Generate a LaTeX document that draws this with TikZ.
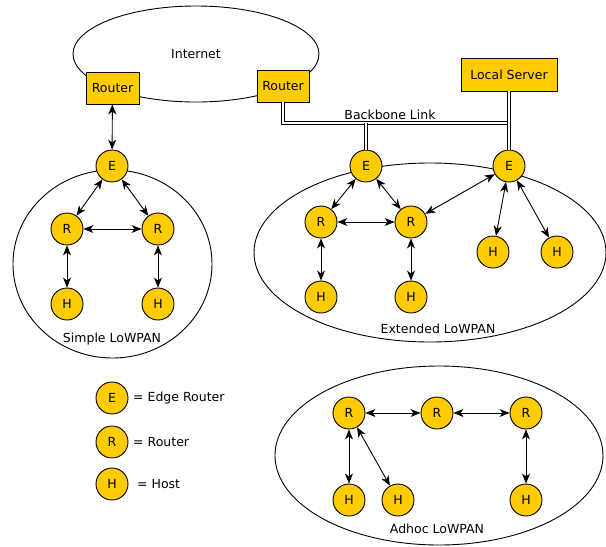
\documentclass[tikz,border=0pt]{standalone}
\usepackage{fontspec}
\setmainfont{DejaVu Sans}
\usetikzlibrary{arrows.meta}
\definecolor{nodeyellow}{HTML}{FFCC00}
\tikzset{
  dev/.style={circle,draw=black,fill=nodeyellow,minimum size=32pt,inner sep=0pt,line width=0.9pt,font=\fontsize{12.5}{14}\selectfont},
  boxnode/.style={rectangle,draw=black,fill=nodeyellow,minimum height=32pt,inner sep=0pt,line width=0.9pt,font=\fontsize{12.5}{14}\selectfont},
  cloud/.style={draw=black,line width=0.9pt},
  link/.style={{Stealth[length=10pt,width=8pt,inset=3pt]}-{Stealth[length=10pt,width=8pt,inset=3pt]},line width=0.9pt},
  bb/.style={double=white,double distance=2.2pt,line width=0.9pt,draw=black},
  lbl/.style={font=\fontsize{12.5}{14}\selectfont,inner sep=0pt}
}
\begin{document}
\begin{tikzpicture}[x=1pt,y=-1pt]
\useasboundingbox (0,0) rectangle (606,547);
% clouds
\draw[cloud] (196,54) ellipse [x radius=123,y radius=48];
\draw[cloud] (112.5,264) ellipse [x radius=99.5,y radius=94];
\draw[cloud] (430,252.5) ellipse [x radius=176,y radius=89.5];
\draw[cloud] (439,455.5) ellipse [x radius=164,y radius=89.5];
\node[lbl] (inet) at (196,54) {Internet};
\node[lbl] (simple) at (112,339) {Simple LoWPAN};
\node[lbl] (ext) at (438,329) {Extended LoWPAN};
\node[lbl] (adhoc) at (437,529) {Adhoc LoWPAN};
\node[lbl] (bbl) at (390,115) {Backbone Link};
% boxes
\node[boxnode,minimum width=53pt] (rl) at (112.5,88) {Router};
\node[boxnode,minimum width=52pt] (rr) at (283,86) {Router};
\node[boxnode,minimum width=96pt,minimum height=33pt] (ls) at (509,74.5) {Local Server};
% simple
\node[dev] (se) at (112,166) {E};
\node[dev] (sr1) at (67,229) {R};
\node[dev] (sr2) at (158,229) {R};
\node[dev] (sh1) at (67,304) {H};
\node[dev] (sh2) at (158,304) {H};
% extended
\node[dev] (xe1) at (366,166) {E};
\node[dev] (xe2) at (509,166) {E};
\node[dev] (xr1) at (321,222) {R};
\node[dev] (xr2) at (411,222) {R};
\node[dev] (xh1) at (321,297) {H};
\node[dev] (xh2) at (411,297) {H};
\node[dev] (xh3) at (493,252) {H};
\node[dev] (xh4) at (557,252) {H};
% adhoc
\node[dev] (ar1) at (349,413) {R};
\node[dev] (ar2) at (437,413) {R};
\node[dev] (ar3) at (526,413) {R};
\node[dev] (ah1) at (349,500) {H};
\node[dev] (ah2) at (398,500) {H};
\node[dev] (ah3) at (526,500) {H};
% legend
\node[dev] (le) at (112,398) {E};
\node[dev] (lr) at (112,442) {R};
\node[dev] (lh) at (112,484) {H};
\node[lbl,anchor=west] (let) at (133,398) {= Edge Router};
\node[lbl,anchor=west] (lrt) at (133,442) {= Router};
\node[lbl,anchor=west] (lht) at (137,484) {= Host};
% backbone
\coordinate (c1) at (283,123);
\coordinate (c2) at (366,123);
\coordinate (c3) at (509,123);
\draw[bb] (rr.south) -- (c1) -- (c3);
\draw[bb] (c2) -- (xe1.north);
\draw[bb] (ls.south) -- (xe2.north);
% links
\draw[link] (rl) -- (se);
\draw[link] (se) -- (sr1);
\draw[link] (se) -- (sr2);
\draw[link] (sr1) -- (sr2);
\draw[link] (sr1) -- (sh1);
\draw[link] (sr2) -- (sh2);
\draw[link] (xe1) -- (xr1);
\draw[link] (xe1) -- (xr2);
\draw[link] (xr1) -- (xr2);
\draw[link] (xr1) -- (xh1);
\draw[link] (xr2) -- (xh2);
\draw[link] (xe2) -- (xr2);
\draw[link] (xe2) -- (xh3);
\draw[link] (xe2) -- (xh4);
\draw[link] (ar1) -- (ar2);
\draw[link] (ar2) -- (ar3);
\draw[link] (ar1) -- (ah1);
\draw[link] (ar1) -- (ah2);
\draw[link] (ar3) -- (ah3);
\end{tikzpicture}
\end{document}
